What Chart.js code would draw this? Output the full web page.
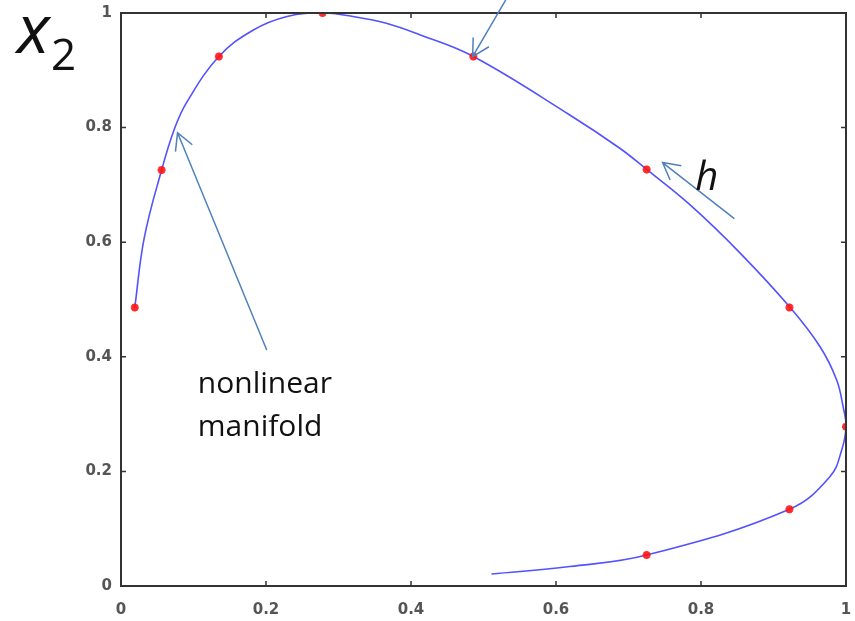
<!DOCTYPE html>
<html>
<head>
    <title>nonlinear manifold</title>
    <script src="https://cdn.jsdelivr.net/npm/chart.js"></script>
    <style>
        body { margin: 0; background: #fff; }
    </style>
</head>
<body>
    <canvas id="myChart" width="855" height="621"></canvas>

    <script>
        // curve (x1, x2)
        const curveX = [0.019, 0.032, 0.056, 0.074, 0.091, 0.135, 0.182, 0.229, 0.278, 0.320, 0.366, 0.412,
                        0.486, 0.619, 0.688, 0.725, 0.785, 0.854, 0.923, 0.964, 0.987, 0.996, 1.0,
                        0.994, 0.978, 0.922, 0.725, 0.619, 0.511];
        const curveY = [0.486, 0.607, 0.726, 0.799, 0.845, 0.924, 0.970, 0.994, 1.0, 0.994, 0.982, 0.962,
                        0.924, 0.822, 0.764, 0.727, 0.665, 0.581, 0.486, 0.418, 0.360, 0.313, 0.278,
                        0.237, 0.191, 0.134, 0.054, 0.034, 0.021];

        // the red sample points
        const markX = [0.019, 0.056, 0.135, 0.278, 0.486, 0.725, 0.922, 1.0, 0.922, 0.725];
        const markY = [0.486, 0.726, 0.924, 1.0, 0.924, 0.727, 0.486, 0.278, 0.134, 0.054];

        const tickValues = [0, 0.2, 0.4, 0.6, 0.8, 1];

        const arrowColor = '#4f81bd';

        function drawArrow(ctx, x1, y1, x2, y2) {
            // line from (x1,y1) to tip (x2,y2), open head at the tip
            const ang = Math.atan2(y1 - y2, x1 - x2);
            const len = 19, spread = 0.5;
            ctx.beginPath();
            ctx.moveTo(x1, y1);
            ctx.lineTo(x2, y2);
            ctx.moveTo(x2 + len * Math.cos(ang - spread), y2 + len * Math.sin(ang - spread));
            ctx.lineTo(x2, y2);
            ctx.lineTo(x2 + len * Math.cos(ang + spread), y2 + len * Math.sin(ang + spread));
            ctx.stroke();
        }

        const framePlugin = {
            id: 'frame',
            afterDatasetsDraw(chart) {
                const ctx = chart.ctx;
                const a = chart.chartArea;
                const xs = chart.scales.x, ys = chart.scales.y;
                ctx.save();
                ctx.strokeStyle = '#333';
                ctx.lineWidth = 2;
                ctx.strokeRect(a.left, a.top, a.right - a.left, a.bottom - a.top);

                // inward tick marks on all four sides
                ctx.lineWidth = 1.5;
                ctx.beginPath();
                for (const v of tickValues) {
                    const px = xs.getPixelForValue(v);
                    ctx.moveTo(px, a.bottom); ctx.lineTo(px, a.bottom - 5);
                    ctx.moveTo(px, a.top); ctx.lineTo(px, a.top + 5);
                    const py = ys.getPixelForValue(v);
                    ctx.moveTo(a.left, py); ctx.lineTo(a.left + 5, py);
                    ctx.moveTo(a.right, py); ctx.lineTo(a.right - 5, py);
                }
                ctx.stroke();
                ctx.restore();
            }
        };

        const notesPlugin = {
            id: 'notes',
            afterDraw(chart) {
                const ctx = chart.ctx;
                const xs = chart.scales.x, ys = chart.scales.y;
                const X = v => xs.getPixelForValue(v);
                const Y = v => ys.getPixelForValue(v);
                ctx.save();

                ctx.strokeStyle = arrowColor;
                ctx.lineWidth = 1.5;
                drawArrow(ctx, X(0.201), Y(0.412), X(0.078), Y(0.791));
                drawArrow(ctx, X(0.534), Y(1.03), X(0.485), Y(0.924));
                drawArrow(ctx, X(0.846), Y(0.641), X(0.747), Y(0.739));

                ctx.fillStyle = '#111';
                ctx.textAlign = 'left';
                ctx.textBaseline = 'alphabetic';
                ctx.font = '30px "Open Sans"';
                ctx.fillText('nonlinear', X(0.106), Y(0.337));
                ctx.fillText('manifold', X(0.106), Y(0.262));

                ctx.font = 'italic 40px "Open Sans"';
                ctx.fillText('h', X(0.792), Y(0.691));

                // axis name at the top left, outside the plot
                ctx.font = 'italic 68px "Open Sans"';
                ctx.fillText('x', 17, 53);
                ctx.font = '44px "Open Sans"';
                ctx.fillText('2', 51, 70);
                ctx.restore();
            }
        };

        const tickFont = { family: 'DejaVu Sans', size: 15, weight: 'bold' };
        const tickText = v => (v === 0 || v === 1) ? String(v) : v.toFixed(1);

        var ctx = document.getElementById('myChart').getContext('2d');
        var myChart = new Chart(ctx, {
            type: 'scatter',
            data: {
                datasets: [
                    {
                        label: 'samples',
                        data: markX.map((x, i) => ({ x: x, y: markY[i] })),
                        showLine: false,
                        pointStyle: 'star',
                        pointRadius: 4,
                        borderColor: 'rgba(255, 20, 20, 0.9)',
                        backgroundColor: 'rgba(255, 20, 20, 0.9)',
                        borderWidth: 2.5,
                        order: 0
                    },
                    {
                        type: 'line',
                        label: 'manifold',
                        data: curveX.map((x, i) => ({ x: x, y: curveY[i] })),
                        showLine: true,
                        pointRadius: 0,
                        borderColor: '#5252ff',
                        borderWidth: 1.6,
                        tension: 0.4,
                        capBezierPoints: false,
                        clip: 4,
                        fill: false,
                        order: 1
                    }
                ]
            },
            options: {
                responsive: false,
                animation: false,
                layout: { padding: { top: 13, right: 9, left: 0, bottom: 0 } },
                plugins: {
                    legend: { display: false },
                    tooltip: { enabled: false }
                },
                scales: {
                    x: {
                        type: 'linear',
                        min: 0,
                        max: 1,
                        afterBuildTicks: s => { s.ticks = tickValues.map(v => ({ value: v })); },
                        afterFit: s => { s.height = 35; s.paddingLeft = 0; s.paddingRight = 0; },
                        grid: { display: false, drawTicks: false },
                        border: { display: false },
                        ticks: { font: tickFont, color: '#555', padding: 15, maxRotation: 0, callback: tickText }
                    },
                    y: {
                        type: 'linear',
                        min: 0,
                        max: 1,
                        afterBuildTicks: s => { s.ticks = tickValues.map(v => ({ value: v })); },
                        afterFit: s => { s.width = 121; s.paddingTop = 0; s.paddingBottom = 0; },
                        grid: { display: false, drawTicks: false },
                        border: { display: false },
                        ticks: { font: tickFont, color: '#555', padding: 9, callback: tickText }
                    }
                }
            },
            plugins: [framePlugin, notesPlugin]
        });
    </script>
</body>
</html>
